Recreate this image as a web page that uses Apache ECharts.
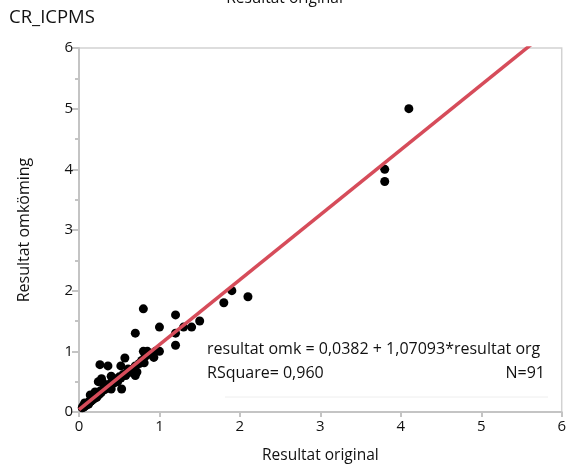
<!DOCTYPE html>
<html>
<head>
<meta charset="utf-8">
<script src="https://cdn.jsdelivr.net/npm/echarts@6/dist/echarts.min.js"></script>
<style>
  html, body { margin: 0; padding: 0; background: #fff; }
  #chart { width: 569px; height: 472px; }
</style>
</head>
<body>
<div id="chart"></div>
<script>
// Resultat original vs. resultat omkörning, CR_ICPMS (N = 91)
const originalValues = [
  4.1, 3.8, 3.8, 2.1, 1.9, 1.8, 1.5, 1.4, 1.3, 1.2, 1.2, 1.2, 1.0, 0.8, 0.7,
  1.0, 0.85, 0.8, 0.93, 0.82, 0.81, 0.57, 0.52, 0.61, 0.70, 0.70, 0.66, 0.26,
  0.36, 0.40, 0.24, 0.30, 0.28, 0.53, 0.40, 0.20, 0.14, 0.07, 0.04,
  0.05, 0.06, 0.08, 0.09, 0.10, 0.10, 0.11, 0.12, 0.12, 0.13, 0.14, 0.15, 0.15,
  0.16, 0.17, 0.18, 0.19, 0.20, 0.21, 0.22, 0.23, 0.24, 0.25, 0.26, 0.27, 0.28,
  0.30, 0.31, 0.32, 0.34, 0.35, 0.37, 0.38, 0.40, 0.42, 0.44, 0.45, 0.47, 0.48,
  0.50, 0.52, 0.55, 0.58, 0.60, 0.63, 0.65, 0.68, 0.72, 0.75, 0.78, 0.88, 0.95
];
const rerunValues = [
  5.0, 4.0, 3.8, 1.9, 2.0, 1.8, 1.5, 1.4, 1.4, 1.6, 1.3, 1.1, 1.4, 1.7, 1.3,
  1.0, 1.0, 1.0, 0.9, 0.91, 0.81, 0.89, 0.76, 0.71, 0.76, 0.60, 0.65, 0.78,
  0.76, 0.59, 0.50, 0.48, 0.55, 0.38, 0.38, 0.33, 0.28, 0.15, 0.07,
  0.10, 0.08, 0.10, 0.12, 0.12, 0.14, 0.15, 0.13, 0.16, 0.18, 0.17, 0.20, 0.18,
  0.22, 0.20, 0.24, 0.22, 0.25, 0.26, 0.24, 0.30, 0.28, 0.32, 0.30, 0.35, 0.33,
  0.36, 0.40, 0.37, 0.42, 0.40, 0.44, 0.46, 0.45, 0.50, 0.48, 0.52, 0.55, 0.50,
  0.58, 0.56, 0.62, 0.60, 0.66, 0.70, 0.68, 0.72, 0.66, 0.80, 0.85, 0.95, 1.00
];

// Linear fit: resultat omk = intercept + slope * resultat org
const intercept = 0.0382;
const slope = 1.07093;
const rSquare = '0,960';
const axisTicks = [0, 1, 2, 3, 4, 5, 6];

const points = originalValues.map((x, i) => [x, rerunValues[i]]);
const fitLine = [
  [axisTicks[0], intercept + slope * axisTicks[0]],
  [axisTicks[axisTicks.length - 1], intercept + slope * axisTicks[axisTicks.length - 1]]
];

const FONT = '"Open Sans", "Liberation Sans", sans-serif';
const chart = echarts.init(document.getElementById('chart'), null, { renderer: 'canvas' });

chart.setOption({
  animation: false,
  backgroundColor: '#ffffff',
  grid: {
    left: 79, right: 4, top: 48, bottom: 60,
    show: true, borderColor: '#d2d2d2', borderWidth: 1.5
  },
  xAxis: {
    type: 'value', min: 0, max: 6, interval: 1,
    name: 'Resultat original', nameLocation: 'middle', nameGap: 36,
    nameTextStyle: { fontFamily: FONT, fontSize: 15.5, color: '#111' },
    axisLine: { show: true, onZero: false, lineStyle: { color: '#c4c4c4', width: 2 } },
    axisTick: { show: true, length: 5, lineStyle: { color: '#c4c4c4', width: 2 } },
    axisLabel: { fontFamily: FONT, fontSize: 15, color: '#111', margin: 7 },
    splitLine: { show: false }
  },
  yAxis: {
    type: 'value', min: 0, max: 6, interval: 1,
    name: 'Resultat omköming', nameLocation: 'middle', nameGap: 47,
    nameTextStyle: { fontFamily: FONT, fontSize: 16, color: '#111' },
    axisLine: { show: true, onZero: false, lineStyle: { color: '#c4c4c4', width: 2 } },
    axisTick: { show: true, length: 7, lineStyle: { color: '#c4c4c4', width: 2 } },
    minorTick: { show: true, splitNumber: 2, length: 4, lineStyle: { color: '#c4c4c4', width: 2 } },
    axisLabel: { fontFamily: FONT, fontSize: 15, color: '#111', margin: 6 },
    splitLine: { show: false }
  },
  series: [
    {
      type: 'scatter',
      data: points,
      symbol: 'circle',
      symbolSize: 9,
      itemStyle: { color: '#000000', opacity: 1 },
      z: 2
    },
    {
      type: 'line',
      data: fitLine,
      symbol: 'none',
      clip: true,
      lineStyle: { color: '#d64c5a', width: 3.5 },
      z: 3
    }
  ],
  graphic: [
    {
      type: 'text', left: 'center', top: -9,
      style: { text: 'Resultat original', font: '15.5px ' + FONT, fill: '#111' }
    },
    {
      type: 'text', left: 9, top: 8,
      style: { text: 'CR_ICPMS', font: '18.5px ' + FONT, fill: '#111' }
    },
    {
      type: 'text', left: 207, top: 341,
      style: {
        text: 'resultat omk = ' + String(intercept).replace('.', ',') + ' + ' +
              String(slope).replace('.', ',') + '*resultat org',
        font: '16px ' + FONT, fill: '#111'
      }
    },
    {
      type: 'text', left: 207, top: 365,
      style: { text: 'RSquare= ' + rSquare, font: '16px ' + FONT, fill: '#111' }
    },
    {
      type: 'text', right: 24, top: 365,
      style: { text: 'N=' + points.length, font: '16px ' + FONT, fill: '#111' }
    },
    {
      type: 'line', shape: { x1: 225, y1: 397, x2: 548, y2: 397 },
      style: { stroke: '#eeeeee', lineWidth: 1 }
    }
  ]
});
</script>
</body>
</html>
